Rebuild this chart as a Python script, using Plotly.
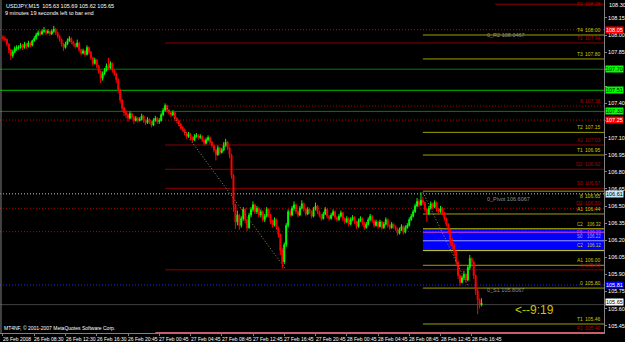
import plotly.graph_objects as go

W, H = 625, 342
PLOT_R = 606
PLOT_B = 333
FN = "Liberation Sans, Arial, sans-serif"

# ---- USDJPY M15 bars (bar index 0 = 26 Feb 04:30) ----
close = [107.97, 107.96, 107.92, 107.87, 107.82, 107.85, 107.88, 107.89, 107.89, 107.91,
         107.89, 107.92, 107.90, 107.93, 107.91, 107.95, 107.97, 108.00, 108.02, 108.01,
         108.03, 108.04, 108.02, 108.03, 108.01, 108.03, 108.05, 108.02, 107.99, 107.96,
         107.92, 107.89, 107.92, 107.95, 107.97, 107.94, 107.92, 107.90, 107.93, 107.87,
         107.84, 107.86, 107.83, 107.89, 107.85, 107.80, 107.75, 107.78, 107.73, 107.68,
         107.62, 107.66, 107.69, 107.73, 107.71, 107.75, 107.69, 107.66, 107.61, 107.52,
         107.43, 107.36, 107.32, 107.30, 107.27, 107.31, 107.28, 107.25, 107.27, 107.25,
         107.26, 107.29, 107.25, 107.23, 107.26, 107.24, 107.21, 107.25, 107.27, 107.24,
         107.25, 107.30, 107.34, 107.38, 107.34, 107.32, 107.30, 107.32, 107.27, 107.25,
         107.22, 107.19, 107.17, 107.14, 107.11, 107.13, 107.10, 107.08, 107.11, 107.12,
         107.10, 107.11, 107.08, 107.05, 107.08, 107.10, 107.06, 107.03, 106.99, 106.95,
         107.01, 106.97, 106.99, 107.03, 107.06, 107.01, 106.95, 106.77, 106.51, 106.36,
         106.42, 106.33, 106.39, 106.47, 106.38, 106.31, 106.42, 106.47, 106.51, 106.45,
         106.48, 106.42, 106.45, 106.38, 106.41, 106.47, 106.42, 106.36, 106.33, 106.38,
         106.31, 106.25, 106.11, 106.01, 106.16, 106.33, 106.45, 106.42, 106.48, 106.51,
         106.45, 106.42, 106.48, 106.52, 106.47, 106.43, 106.47, 106.45, 106.41, 106.47,
         106.50, 106.45, 106.42, 106.39, 106.43, 106.47, 106.41, 106.39, 106.42, 106.45,
         106.40, 106.38, 106.41, 106.44, 106.39, 106.36, 106.39, 106.34, 106.38, 106.40,
         106.36, 106.32, 106.37, 106.39, 106.35, 106.31, 106.34, 106.38, 106.41, 106.37,
         106.33, 106.36, 106.32, 106.36, 106.31, 106.34, 106.38, 106.33, 106.31, 106.34,
         106.32, 106.30, 106.26, 106.29, 106.32, 106.27, 106.31, 106.33, 106.38, 106.41,
         106.45, 106.50, 106.54, 106.51, 106.55, 106.53, 106.47, 106.43, 106.48, 106.52,
         106.49, 106.53, 106.47, 106.45, 106.48, 106.44, 106.39, 106.34, 106.29, 106.18,
         106.15, 106.10, 106.01, 105.89, 105.83, 105.87, 105.90, 105.85, 105.96, 106.04,
         106.01, 105.89, 105.76, 105.68, 105.63, 105.65]
high = [108.00, 107.99, 107.97, 107.93, 107.88, 107.87, 107.90, 107.91, 107.91, 107.93,
        107.92, 107.94, 107.93, 107.95, 107.94, 107.96, 107.99, 108.02, 108.04, 108.04,
        108.05, 108.07, 108.05, 108.05, 108.04, 108.05, 108.08, 108.06, 108.03, 108.00,
        107.97, 107.93, 107.94, 107.97, 107.99, 107.98, 107.95, 107.93, 107.96, 107.94,
        107.88, 107.88, 107.87, 107.91, 107.90, 107.86, 107.81, 107.80, 107.79, 107.74,
        107.69, 107.68, 107.71, 107.75, 107.80, 107.77, 107.76, 107.70, 107.67, 107.62,
        107.53, 107.44, 107.37, 107.34, 107.31, 107.33, 107.32, 107.29, 107.29, 107.28,
        107.28, 107.31, 107.30, 107.26, 107.28, 107.27, 107.25, 107.27, 107.29, 107.28,
        107.27, 107.32, 107.36, 107.40, 107.39, 107.35, 107.33, 107.34, 107.33, 107.28,
        107.26, 107.23, 107.20, 107.18, 107.15, 107.15, 107.14, 107.11, 107.13, 107.14,
        107.13, 107.13, 107.12, 107.09, 107.10, 107.12, 107.11, 107.07, 107.04, 107.00,
        107.03, 107.02, 107.01, 107.06, 107.09, 107.07, 107.02, 106.96, 106.78, 106.52,
        106.46, 106.43, 106.41, 106.49, 106.48, 106.39, 106.44, 106.49, 106.54, 106.52,
        106.50, 106.49, 106.47, 106.46, 106.43, 106.49, 106.48, 106.43, 106.38, 106.40,
        106.39, 106.32, 106.26, 106.13, 106.18, 106.35, 106.47, 106.47, 106.50, 106.54,
        106.52, 106.46, 106.50, 106.55, 106.53, 106.48, 106.49, 106.48, 106.46, 106.49,
        106.53, 106.51, 106.46, 106.43, 106.45, 106.49, 106.48, 106.42, 106.44, 106.47,
        106.46, 106.41, 106.43, 106.46, 106.45, 106.40, 106.41, 106.40, 106.40, 106.42,
        106.41, 106.37, 106.39, 106.41, 106.40, 106.36, 106.36, 106.40, 106.43, 106.42,
        106.38, 106.38, 106.37, 106.38, 106.37, 106.36, 106.40, 106.39, 106.34, 106.36,
        106.35, 106.33, 106.31, 106.31, 106.34, 106.33, 106.33, 106.35, 106.40, 106.43,
        106.47, 106.52, 106.57, 106.56, 106.62, 106.58, 106.54, 106.48, 106.50, 106.54,
        106.53, 106.55, 106.54, 106.48, 106.50, 106.49, 106.45, 106.40, 106.35, 106.30,
        106.22, 106.17, 106.11, 106.02, 105.90, 105.89, 105.93, 105.91, 105.98, 106.07,
        106.05, 106.02, 105.90, 105.77, 105.69, 105.69]
low = [107.95, 107.94, 107.90, 107.84, 107.78, 107.80, 107.84, 107.86, 107.87, 107.88,
       107.87, 107.88, 107.88, 107.89, 107.89, 107.90, 107.94, 107.96, 107.99, 107.99,
       108.00, 108.02, 108.00, 108.01, 107.99, 108.00, 108.02, 108.00, 107.97, 107.94,
       107.90, 107.86, 107.88, 107.91, 107.94, 107.92, 107.90, 107.88, 107.89, 107.85,
       107.82, 107.83, 107.81, 107.82, 107.83, 107.78, 107.73, 107.74, 107.71, 107.66,
       107.58, 107.60, 107.65, 107.68, 107.69, 107.70, 107.67, 107.64, 107.58, 107.49,
       107.40, 107.33, 107.29, 107.27, 107.24, 107.26, 107.26, 107.22, 107.24, 107.23,
       107.24, 107.25, 107.23, 107.21, 107.22, 107.22, 107.19, 107.20, 107.24, 107.22,
       107.22, 107.24, 107.29, 107.33, 107.32, 107.30, 107.28, 107.29, 107.25, 107.23,
       107.20, 107.17, 107.15, 107.12, 107.09, 107.10, 107.08, 107.06, 107.07, 107.10,
       107.08, 107.09, 107.06, 107.03, 107.04, 107.07, 107.04, 107.01, 106.97, 106.90,
       106.94, 106.95, 106.96, 106.98, 107.02, 106.99, 106.92, 106.74, 106.45, 106.30,
       106.33, 106.29, 106.31, 106.37, 106.35, 106.28, 106.30, 106.40, 106.45, 106.43,
       106.43, 106.40, 106.40, 106.36, 106.36, 106.40, 106.40, 106.34, 106.31, 106.32,
       106.29, 106.22, 106.07, 105.95, 105.99, 106.14, 106.31, 106.40, 106.41, 106.46,
       106.43, 106.40, 106.41, 106.47, 106.45, 106.41, 106.42, 106.43, 106.39, 106.40,
       106.46, 106.43, 106.40, 106.37, 106.38, 106.42, 106.39, 106.37, 106.38, 106.41,
       106.38, 106.36, 106.37, 106.40, 106.37, 106.34, 106.35, 106.32, 106.33, 106.37,
       106.34, 106.30, 106.31, 106.36, 106.33, 106.29, 106.30, 106.33, 106.37, 106.35,
       106.31, 106.32, 106.30, 106.31, 106.29, 106.30, 106.33, 106.31, 106.29, 106.30,
       106.30, 106.28, 106.24, 106.25, 106.28, 106.25, 106.26, 106.30, 106.32, 106.37,
       106.40, 106.44, 106.49, 106.49, 106.50, 106.51, 106.45, 106.36, 106.42, 106.47,
       106.47, 106.48, 106.45, 106.43, 106.44, 106.42, 106.37, 106.32, 106.26, 106.15,
       106.12, 106.06, 105.97, 105.86, 105.80, 105.82, 105.85, 105.83, 105.84, 105.94,
       105.98, 105.86, 105.72, 105.55, 105.60, 105.62]
first_open = 107.98
openp = [first_open] + close[:-1]
idx = list(range(len(close)))

y_top, y_bot = 108.307, 105.386
x_lo, x_hi = -1.53, 307.7


def px(x):   # figure pixel -> paper x (plot area spans 0..PLOT_R)
    return x / PLOT_R


def py(y):   # figure pixel -> paper y (plot area spans 0..PLOT_B)
    return 1 - y / PLOT_B


fig = go.Figure()
fig.add_trace(go.Candlestick(
    x=idx, open=openp, high=high, low=low, close=close,
    increasing=dict(line=dict(color="#00ff00", width=1), fillcolor="#00ff00"),
    decreasing=dict(line=dict(color="#ff0000", width=1), fillcolor="#ff0000"),
    whiskerwidth=0, showlegend=False, hoverinfo="skip"))

# horizontal levels: value, color, dash, start bar, tag, label, label color, label anchor
levels = [
    (108.27, "#8b0000", "solid", 252, "F1", "108.28", "#b00000", "middle"),
    (108.0467, "#c00000", "dot", None, "", "", "", ""),
    (108.00, "#a0a000", "solid", 215, "T4", "108.00", "#c8c800", "bottom"),
    (107.93, "#8b0000", "solid", 83, "T1", "107.94", "#b00000", "bottom"),
    (107.79, "#a0a000", "solid", 215, "T3", "107.80", "#c8c800", "bottom"),
    (107.70, "#008000", "solid", None, "", "", "", ""),
    (107.515, "#00c000", "solid", None, "", "", "", ""),
    (107.377, "#c00000", "dot", 83, "8", "107.38", "#b00000", "bottom"),
    (107.33, "#008000", "solid", None, "", "", "", ""),
    (107.254, "#c00000", "dot", None, "", "", "", ""),
    (107.146, "#a0a000", "solid", 215, "T2", "107.15", "#c8c800", "bottom"),
    (107.035, "#8b0000", "solid", 83, "A1", "107.03", "#b00000", "bottom"),
    (106.947, "#a0a000", "solid", 215, "T1", "106.95", "#c8c800", "bottom"),
    (106.822, "#8b0000", "solid", 83, "D2", "106.82", "#b00000", "bottom"),
    (106.655, "#8b0000", "solid", 83, "S0", "106.67", "#b00000", "bottom"),
    (106.63, "#a0a000", "solid", 215, "8", "106.65", "#c8c800", "top"),
    (106.6067, "#c0c0c0", "dot", None, "", "", "", ""),
    (106.48, "#c00000", "dot", None, "D2", "106.50", "#b00000", "bottom"),
    (106.43, "#a0a000", "solid", 215, "A1", "106.44", "#c8c800", "bottom"),
    (106.275, "#c00000", "dot", None, "", "", "", ""),
    (105.98, "#a0a000", "solid", 215, "A1", "106.00", "#c8c800", "bottom"),
    (105.94, "#8b0000", "solid", 83, "3", "105.95", "#b00000", "bottom"),
    (105.807, "#2020ff", "dot", None, "", "", "", ""),
    (105.78, "#a0a000", "solid", 215, "0", "105.80", "#c8c800", "bottom"),
    (105.635, "#404040", "solid", None, "", "", "", ""),
    (105.465, "#a0a000", "solid", 215, "T1", "105.46", "#c8c800", "bottom"),
    (105.39, "#d06070", "solid", 78, "F1", "105.40", "#b00000", "bottom"),
]
band_lo, band_hi = 106.10, 106.295
band_lines = [(106.30, "#c8c800", "C2", "106.32", "bottom"), (106.27, "#d040d0", "F6", "106.29", "middle"),
              (106.195, "#a0a0ff", "S0", "106.22", "bottom"), (106.11, "#c8c800", "C2", "106.12", "bottom")]

DOT = "1px,2px"
shapes = [dict(type="rect", xref="x", yref="y", x0=215, x1=x_hi, y0=band_lo, y1=band_hi,
               fillcolor="#0000ff", line=dict(width=0), layer="below"),
          dict(type="line", xref="paper", yref="paper", x0=px(1), x1=px(1), y0=0, y1=1,
               line=dict(color="#808080", width=1))]
annotations = []


def add_label(v, tag, lab, col, yanchor="bottom", size=5):
    annotations.append(dict(xref="paper", yref="y", x=px(587), y=v, text=tag, showarrow=False,
                            xanchor="right", yanchor=yanchor, font=dict(size=size, color=col, family=FN)))
    annotations.append(dict(xref="paper", yref="y", x=px(605), y=v, text=lab, showarrow=False,
                            xanchor="right", yanchor=yanchor, font=dict(size=size, color=col, family=FN)))


for (v, col, dash, start, tag, lab, lcol, anc) in levels:
    x0 = x_lo if start is None else start
    shapes.append(dict(type="line", xref="x", yref="y", x0=x0, x1=x_hi, y0=v, y1=v,
                       line=dict(color=col, width=1, dash=DOT if dash == "dot" else "solid"), layer="below"))
    if lab:
        add_label(v, tag, lab, lcol, anc)
for v, col, tag, lab, anc in band_lines:
    shapes.append(dict(type="line", xref="x", yref="y", x0=215, x1=x_hi, y0=v, y1=v,
                       line=dict(color=col, width=1), layer="below"))
    add_label(v, tag, lab, col, anc, 4.5)

# zigzag dotted lines
zz_x = [[83, 145], [215, 238]]
zz_y = [[107.38, 105.94], [106.62, 105.80]]
for xs, ys in zip(zz_x, zz_y):
    fig.add_trace(go.Scatter(x=xs, y=ys, mode="lines", line=dict(color="#909060", width=1, dash=DOT),
                             showlegend=False, hoverinfo="skip"))

# pivot object texts
for txt, v in [("0_R2 108.0467", 108.0467), ("0_Pivot 106.6067", 106.6067), ("0_S1 105.8067", 105.807)]:
    annotations.append(dict(xref="paper", yref="y", x=px(487), y=v, text=txt, showarrow=False,
                            xanchor="left", yanchor="top", font=dict(size=5.5, color="#909090", family=FN)))

# axis price boxes
boxes = [("108.05", 108.0467, "#ff0000", "#ffffff"), ("107.70", 107.70, "#00ff00", "#000000"),
         ("107.51", 107.515, "#00ff00", "#000000"), ("107.33", 107.33, "#00ff00", "#000000"),
         ("107.25", 107.254, "#ff0000", "#ffffff"), ("106.61", 106.6067, "#c0e8ff", "#000000"),
         ("105.81", 105.807, "#0000ff", "#ffffff"), ("105.65", 105.655, "#ffffff", "#000000")]
for lab, v, bg, fg in boxes:
    annotations.append(dict(xref="paper", yref="y", x=px(607), y=v, text=lab, showarrow=False,
                            xanchor="left", yanchor="middle", bgcolor=bg, borderpad=0,
                            font=dict(size=5.5, color=fg, family=FN)))

# header / footer texts
annotations += [
    dict(xref="paper", yref="paper", x=px(4), y=py(1), text="USDJPY,M15  105.63 105.69 105.62 105.65",
         showarrow=False, xanchor="left", yanchor="top", font=dict(size=5.5, color="#ffffff", family=FN)),
    dict(xref="paper", yref="paper", x=px(3), y=py(8), text="9 minutes 19 seconds left to bar end",
         showarrow=False, xanchor="left", yanchor="top", font=dict(size=5.5, color="#ffffff", family=FN)),
    dict(xref="paper", yref="paper", x=px(2), y=py(323), text="MT4NF, © 2001-2007 MetaQuotes Software Corp.",
         showarrow=False, xanchor="left", yanchor="top", font=dict(size=5, color="#ffffff", family=FN)),
    dict(xref="paper", yref="paper", x=px(515), y=py(310), text="<--9:19",
         showarrow=False, xanchor="left", yanchor="middle", font=dict(size=12, color="#c8c800", family=FN)),
    dict(xref="paper", yref="paper", x=px(609), y=1, text="108.30", showarrow=False, xanchor="left",
         yanchor="top", font=dict(size=5.5, color="#ffffff", family=FN)),
]

# time labels
time_idx = [0, 16, 32, 48, 64, 80, 96, 112, 128, 144, 160, 176, 192, 208, 224, 240]
time_lab = ["26 Feb 2008", "26 Feb 08:30", "26 Feb 12:30", "26 Feb 16:30", "26 Feb 20:45", "27 Feb 00:45",
            "27 Feb 04:45", "27 Feb 08:45", "27 Feb 12:45", "27 Feb 16:45", "27 Feb 20:45", "28 Feb 00:45",
            "28 Feb 04:45", "28 Feb 08:45", "28 Feb 12:45", "28 Feb 16:45"]
for i, t in zip(time_idx, time_lab):
    annotations.append(dict(xref="x", yref="paper", x=i - 1, y=py(334), text=t, showarrow=False,
                            xanchor="left", yanchor="top", font=dict(size=5, color="#ffffff", family=FN)))

# price scale: ticks every 0.15; labels hidden where a coloured price box covers them
ticks_y = [round(105.45 + 0.15 * k, 2) for k in range(19)]
covered = {"107.70", "107.55", "107.25"}
tick_text = ["" if ("%.2f" % t) in covered else "%.2f" % t for t in ticks_y]
fig.update_layout(
    width=W, height=H, margin=dict(l=0, r=W - PLOT_R, t=0, b=H - PLOT_B),
    paper_bgcolor="#000000", plot_bgcolor="#000000",
    shapes=shapes, annotations=annotations, showlegend=False,
    xaxis=dict(range=[x_lo, x_hi], showgrid=False, zeroline=False, rangeslider=dict(visible=False),
               showline=True, linecolor="#808080", linewidth=1, ticks="outside", ticklen=2, tickcolor="#808080",
               tickvals=time_idx, showticklabels=False),
    yaxis=dict(range=[y_bot, y_top], side="right", showgrid=False, zeroline=False, showline=True,
               linecolor="#808080", linewidth=1, ticks="outside", ticklen=2, tickcolor="#808080",
               tickvals=ticks_y, ticktext=tick_text,
               tickfont=dict(size=5.5, color="#ffffff", family=FN)),
)
fig.write_html("out.html")
